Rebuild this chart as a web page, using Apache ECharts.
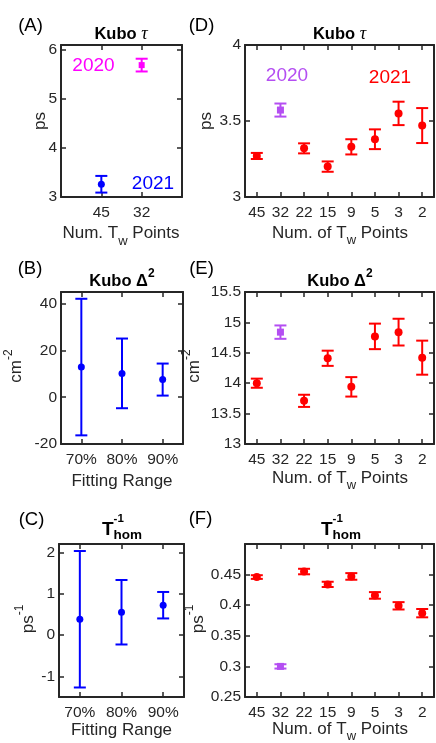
<!DOCTYPE html>
<html>
<head>
<meta charset="utf-8">
<script src="https://cdn.jsdelivr.net/npm/echarts@6.0.0/dist/echarts.min.js"></script>
<style>
  html, body { margin: 0; padding: 0; background: #fff; }
  #chart { width: 436px; height: 743px; }
</style>
</head>
<body>
<div id="chart"></div>
<script>
// (A) Kubo tau: first entry is the 2021 set (45 Tw), second the 2020 set (32 Tw)
var numTwA = ['45', '32'];
var tauA = [3.26, 5.69];
var tauAErr = [0.17, 0.13];

// (B), (C) versus fitting range
var fitRange = ['70%', '80%', '90%'];
var delta2Fit = [12.9, 10.2, 7.55];
var delta2FitErr = [29.2, 14.9, 6.85];
var thomFit = [0.38, 0.55, 0.72];
var thomFitErr = [1.65, 0.78, 0.32];

// (D)-(F) versus number of Tw points, '32' is the 2020 set
var numTw = ['45', '32', '22', '15', '9', '5', '3', '2'];
var tw2021 = ['45', '22', '15', '9', '5', '3', '2'];
var tau2021 = [3.27, 3.32, 3.20, 3.33, 3.38, 3.55, 3.47];
var tau2021Err = [0.02, 0.033, 0.034, 0.05, 0.065, 0.077, 0.115];
var delta2021 = [14.0, 13.71, 14.41, 13.94, 14.77, 14.84, 14.42];
var delta2021Err = [0.075, 0.1, 0.125, 0.16, 0.21, 0.22, 0.28];
var thom2021 = [0.446, 0.455, 0.434, 0.447, 0.416, 0.399, 0.387];
var thom2021Err = [0.003, 0.0045, 0.0043, 0.0054, 0.0054, 0.006, 0.0068];
var tw2020 = ['32'];
var tau2020 = [3.572];
var tau2020Err = [0.043];
var delta2020 = [14.84];
var delta2020Err = [0.11];
var thom2020 = [0.300];
var thom2020Err = [0.0035];

var FONT = '"Liberation Sans", Arial, sans-serif';
var AX = '#262626';
var BLUE = '#0000ff', MAGENTA = '#ff00ff', RED = '#ff0000', PURPLE = '#b44ef2';

var grids = [
    {left: 61, top: 45, width: 121, height: 152},   // A
    {left: 61, top: 292, width: 122, height: 152},  // B
    {left: 59, top: 544, width: 125, height: 153},  // C
    {left: 245, top: 45, width: 189, height: 152},  // D
    {left: 245, top: 292, width: 189, height: 152}, // E
    {left: 245, top: 544, width: 189, height: 153}  // F
];

function onlyInt(v) { return Math.abs(v - Math.round(v)) < 1e-9 ? String(Math.round(v)) : ''; }

var xSpecs = [
    {type: 'value', min: 0, max: 3, interval: 1, formatter: function (v) { return numTwA[v - 1] || ''; }},
    {type: 'category', data: fitRange},
    {type: 'category', data: fitRange},
    {type: 'category', data: numTw},
    {type: 'category', data: numTw},
    {type: 'category', data: numTw}
];
var ySpecs = [
    {min: 3, max: 6.1, interval: 1},
    {min: -20, max: 45, interval: 20},
    {min: -1.5, max: 2.2, splitNumber: 4, formatter: onlyInt},
    {min: 3, max: 4, interval: 0.5},
    {min: 13, max: 15.5, interval: 0.5},
    {min: 0.25, max: 0.5, interval: 0.05}
];

function makeAxis(spec, gi, pos, mirror) {
    var ax = {
        type: spec.type || 'value',
        gridIndex: gi,
        position: pos,
        axisLine: {show: true, onZero: false, lineStyle: {color: AX, width: 2}},
        axisTick: {show: true, inside: true, length: 5, lineStyle: {color: AX, width: 1.5}},
        axisLabel: {
            show: !mirror, color: AX, fontFamily: FONT, fontSize: 15.5,
            margin: (pos === 'left') ? 4 : 8,
            showMinLabel: spec.formatter === onlyInt ? false : null,
            showMaxLabel: false
        },
        splitLine: {show: false}
    };
    if (spec.type === 'category') {
        ax.data = spec.data;
        ax.boundaryGap = true;
        ax.axisTick.alignWithLabel = true;
        ax.axisTick.interval = 0;
        ax.axisLabel.interval = 0;
        ax.axisLabel.showMaxLabel = null;
    } else {
        ax.min = spec.min;
        ax.max = spec.max;
        if (spec.interval) ax.interval = spec.interval;
        if (spec.splitNumber) ax.splitNumber = spec.splitNumber;
        if (spec.formatter) ax.axisLabel.formatter = spec.formatter;
        if (pos === 'bottom') ax.axisLabel.showMaxLabel = null;
        if (spec.max === 4 || spec.max === 15.5) ax.axisLabel.showMaxLabel = true;
    }
    return ax;
}

var xAxes = [], yAxes = [];
grids.forEach(function (g, i) {
    xAxes.push(makeAxis(xSpecs[i], i, 'bottom', false));
    yAxes.push(makeAxis(Object.assign({type: 'value'}, ySpecs[i]), i, 'left', false));
});
grids.forEach(function (g, i) {
    xAxes.push(makeAxis(xSpecs[i], i, 'top', true));
    yAxes.push(makeAxis(Object.assign({type: 'value'}, ySpecs[i]), i, 'right', true));
});

function zip(xs, vs, es) {
    return xs.map(function (x, i) { return [x, vs[i], es[i]]; });
}

function errorBars(gi, data, color) {
    return {
        type: 'custom',
        xAxisIndex: gi, yAxisIndex: gi,
        encode: {x: 0, y: 1},
        data: data,
        z: 2,
        silent: true,
        renderItem: function (params, api) {
            var x = api.value(0), v = api.value(1), e = api.value(2);
            var hi = api.coord([x, v + e]);
            var lo = api.coord([x, v - e]);
            var w = 6;
            var st = {stroke: color, lineWidth: 2, fill: null};
            return {
                type: 'group',
                children: [
                    {type: 'line', shape: {x1: hi[0], y1: hi[1], x2: lo[0], y2: lo[1]}, style: st},
                    {type: 'line', shape: {x1: hi[0] - w, y1: hi[1], x2: hi[0] + w, y2: hi[1]}, style: st},
                    {type: 'line', shape: {x1: lo[0] - w, y1: lo[1], x2: lo[0] + w, y2: lo[1]}, style: st}
                ]
            };
        }
    };
}

function markers(gi, data, color, symbol, size) {
    return {
        type: 'scatter',
        xAxisIndex: gi, yAxisIndex: gi,
        data: data.map(function (d) { return [d[0], d[1]]; }),
        symbol: symbol,
        symbolSize: size,
        itemStyle: {color: color, opacity: 1},
        z: 3,
        silent: true
    };
}

var series = [];
function addSet(gi, data, color, symbol, size) {
    series.push(errorBars(gi, data, color));
    series.push(markers(gi, data, color, symbol, size));
}

// A: x positions 1 and 2 on a 0..3 axis
addSet(0, [[1, tauA[0], tauAErr[0]]], BLUE, 'circle', 7);
addSet(0, [[2, tauA[1], tauAErr[1]]], MAGENTA, 'rect', 6);
addSet(1, zip(fitRange, delta2Fit, delta2FitErr), BLUE, 'circle', 7);
addSet(2, zip(fitRange, thomFit, thomFitErr), BLUE, 'circle', 7);
addSet(3, zip(tw2021, tau2021, tau2021Err), RED, 'circle', 8);
addSet(3, zip(tw2020, tau2020, tau2020Err), PURPLE, 'rect', 7);
addSet(4, zip(tw2021, delta2021, delta2021Err), RED, 'circle', 8);
addSet(4, zip(tw2020, delta2020, delta2020Err), PURPLE, 'rect', 7);
addSet(5, zip(tw2021, thom2021, thom2021Err), RED, 'circle', 8);
addSet(5, zip(tw2020, thom2020, thom2020Err), PURPLE, 'rect', 7);

// text pieces with sub/superscripts, measured so they can be centred
var ctx = document.createElement('canvas').getContext('2d');
function fontStr(p) {
    return (p.i ? 'italic ' : '') + (p.b ? 'bold ' : '') + p.s + 'px ' + (p.f || FONT);
}
function label(parts, cx, cy, rot, color) {
    var children = [], cur = 0, prevStart = 0;
    parts.forEach(function (p) {
        var f = fontStr(p);
        ctx.font = f;
        var w = ctx.measureText(p.t).width;
        var start = p.stack ? prevStart : cur;
        children.push({
            type: 'text', x: start, y: p.dy || 0,
            style: {text: p.t, font: f, fill: p.c || color || AX,
                    align: 'left', verticalAlign: 'middle',
                    textAlign: 'left', textVerticalAlign: 'middle'}
        });
        cur = Math.max(cur, start + w);
        if (!p.stack) prevStart = start;
    });
    children.forEach(function (c) { c.x -= cur / 2; });
    return {type: 'group', x: cx, y: cy, rotation: rot || 0, children: children, silent: true};
}

var R90 = Math.PI / 2;
var tauTitle = [{t: 'Kubo ', s: 16.5, b: 1}, {t: 'τ', s: 18, i: 1, f: '"Liberation Serif", serif'}];
var deltaTitle = [{t: 'Kubo ', s: 16.5, b: 1}, {t: 'Δ', s: 16.5, b: 1}, {t: '2', s: 12, b: 1, dy: -7}];
var thomTitle = [{t: 'T', s: 19, b: 1}, {t: '-1', s: 11.5, b: 1, dy: -11}, {t: 'hom', s: 13.5, b: 1, dy: 5, stack: 1}];
var twName = function (of) {
    return [{t: of ? 'Num. of T' : 'Num. T', s: 17}, {t: 'w', s: 13, dy: 7.5}, {t: ' Points', s: 17}];
};

var graphics = [
    // panel letters
    label([{t: '(A)', s: 18.5}], 30.5, 25.5, 0, '#000'),
    label([{t: '(B)', s: 18.5}], 30, 269, 0, '#000'),
    label([{t: '(C)', s: 18.5}], 31.5, 520, 0, '#000'),
    label([{t: '(D)', s: 18.5}], 201.5, 26, 0, '#000'),
    label([{t: '(E)', s: 18.5}], 201.5, 269, 0, '#000'),
    label([{t: '(F)', s: 18.5}], 200.5, 519, 0, '#000'),
    // titles
    label(tauTitle, 121, 34, 0, '#000'),
    label(tauTitle, 339.5, 34, 0, '#000'),
    label(deltaTitle, 122, 281, 0, '#000'),
    label(deltaTitle, 340, 281, 0, '#000'),
    label(thomTitle, 122, 530, 0, '#000'),
    label(thomTitle, 341, 530, 0, '#000'),
    // y names
    label([{t: 'ps', s: 17}], 40, 121, R90),
    label([{t: 'ps', s: 17}], 206, 121, R90),
    label([{t: 'cm', s: 17}, {t: '-2', s: 12, dy: -8}], 16.5, 366, R90),
    label([{t: 'cm', s: 17}, {t: '-2', s: 12, dy: -8}], 194.5, 366, R90),
    label([{t: 'ps', s: 17}, {t: '-1', s: 12, dy: -8}], 28, 619, R90),
    label([{t: 'ps', s: 17}, {t: '-1', s: 12, dy: -8}], 198, 619, R90),
    // x names
    label(twName(false), 121, 233.5),
    label(twName(true), 340, 233),
    label([{t: 'Fitting Range', s: 17}], 122, 481),
    label(twName(true), 340, 478),
    label([{t: 'Fitting Range', s: 17}], 121.5, 730),
    label(twName(true), 340, 729),
    // year annotations
    label([{t: '2020', s: 19}], 93.5, 66, 0, MAGENTA),
    label([{t: '2021', s: 19}], 153, 184, 0, BLUE),
    label([{t: '2020', s: 19}], 287, 76, 0, PURPLE),
    label([{t: '2021', s: 19}], 390, 78, 0, RED)
];

var myChart = echarts.init(document.getElementById('chart'), null, {renderer: 'canvas'});
myChart.setOption({
    animation: false,
    backgroundColor: '#fff',
    grid: grids,
    xAxis: xAxes,
    yAxis: yAxes,
    series: series,
    graphic: {elements: graphics}
});
</script>
</body>
</html>
